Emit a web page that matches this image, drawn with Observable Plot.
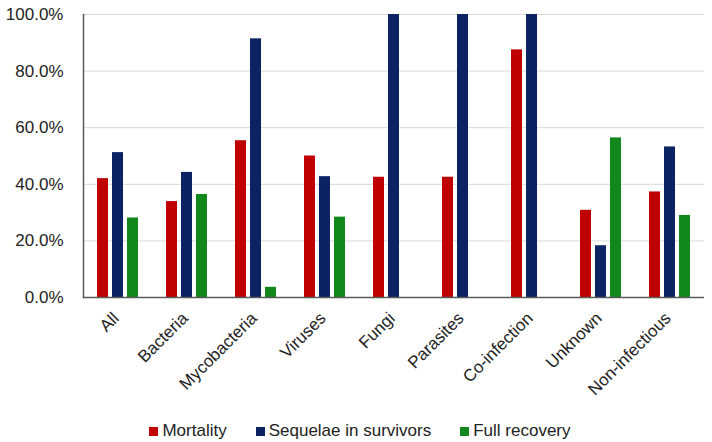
<!DOCTYPE html>
<html>
<head>
<meta charset="utf-8">
<script src="https://cdn.jsdelivr.net/npm/d3@7"></script>
<script src="https://cdn.jsdelivr.net/npm/@observablehq/plot@0.6"></script>
<style>
  body { margin: 0; background: #fff; font-family: "Liberation Sans", Arial, sans-serif; }
  #chart svg { display: block; }
  .legend { display: flex; justify-content: center; align-items: center; gap: 29px; margin-top: 11px; font-size: 17px; color: #222; padding-left: 8px; }
  .legend span.item { display: inline-flex; align-items: center; }
  .legend span.sw { display: inline-block; width: 9px; height: 9px; margin-right: 4px; }
</style>
</head>
<body>
<div id="chart"></div>
<script>
const categories = ["All", "Bacteria", "Mycobacteria", "Viruses", "Fungi", "Parasites", "Co-infection", "Unknown", "Non-infectious"];
const seriesNames = ["Mortality", "Sequelae in survivors", "Full recovery"];
const mortality = [42.0, 33.9, 55.4, 50.0, 42.5, 42.5, 87.5, 30.8, 37.3];
const sequelae = [51.2, 44.2, 91.4, 42.7, 100, 100, 100, 18.3, 53.2];
const recovery = [28.1, 36.4, 3.6, 28.4, null, null, null, 56.4, 29.0];
const yTicks = [0, 20, 40, 60, 80, 100];
const colors = ["#C00000", "#0B2362", "#12881C"];

const seriesValues = [mortality, sequelae, recovery];
const table = [];
categories.forEach((c, i) => {
  seriesNames.forEach((s, j) => {
    const v = seriesValues[j][i];
    if (v != null) table.push({category: c, series: s, value: v});
  });
});

const chart = Plot.plot({
  width: 712,
  height: 410,
  marginLeft: 79,
  marginRight: 4,
  marginTop: 14,
  marginBottom: 113,
  style: {fontFamily: "'Liberation Sans', Arial, sans-serif", fontSize: "17px", color: "#222"},
  fx: {domain: categories, padding: 0, label: null},
  x: {domain: seriesNames, paddingInner: 0.25, paddingOuter: 0.8, axis: null},
  y: {domain: [0, 100], label: null},
  color: {domain: seriesNames, range: colors},
  marks: [
    Plot.gridY(yTicks, {stroke: "#d9d9d9", strokeOpacity: 1}),
    Plot.barY(table, {fx: "category", x: "series", y: "value", fill: "series"}),
    Plot.ruleY([0], {stroke: "#5a5a5a", strokeWidth: 1.5}),
    Plot.frame({anchor: "left", facetAnchor: "left", stroke: "#5a5a5a", strokeWidth: 1.5}),
    Plot.axisY(yTicks, {tickSize: 0, tickPadding: 20, tickFormat: d => d.toFixed(1) + "%", fontSize: 17, label: null}),
    Plot.axisFx({anchor: "bottom", tickSize: 0, tickPadding: 18, dx: -2, tickRotate: -45, fontSize: 17, label: null})
  ]
});
document.getElementById("chart").appendChild(chart);

const legend = document.createElement("div");
legend.className = "legend";
seriesNames.forEach((s, j) => {
  const item = document.createElement("span");
  item.className = "item";
  const sw = document.createElement("span");
  sw.className = "sw";
  sw.style.background = colors[j];
  item.appendChild(sw);
  item.appendChild(document.createTextNode(s));
  legend.appendChild(item);
});
document.body.appendChild(legend);
</script>
</body>
</html>
